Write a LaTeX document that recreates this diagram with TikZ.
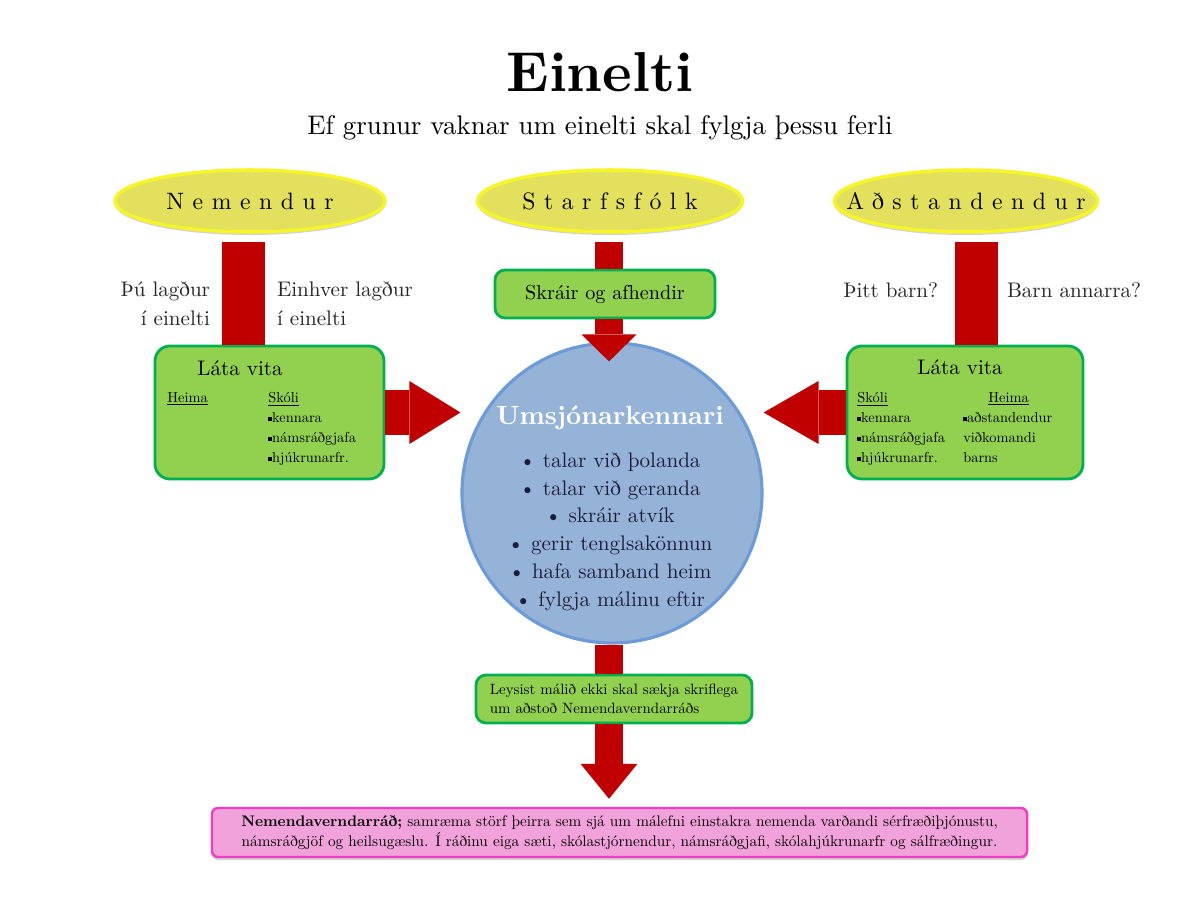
\documentclass[tikz,border=0pt]{standalone}
\usepackage{fontspec}
\setmainfont{lmroman10-regular}[Extension=.otf,BoldFont=lmroman10-bold,ItalicFont=lmroman10-italic,BoldItalicFont=lmroman10-bolditalic]
\newfontfamily\spaced{lmroman10-regular}[Extension=.otf,LetterSpace=36]
\usepackage{tikz}
\usetikzlibrary{shapes.geometric,arrows.meta,shadows,positioning}
\definecolor{barred}{HTML}{C00000}
\definecolor{boxgreen}{HTML}{92D050}
\definecolor{linegreen}{HTML}{00B050}
\definecolor{ovalyellow}{HTML}{E2E05C}
\definecolor{rimyellow}{HTML}{F5F52A}
\definecolor{ballblue}{HTML}{95B3D7}
\definecolor{rimblue}{HTML}{6C9BD8}
\definecolor{boxpink}{HTML}{F2A2DA}
\definecolor{rimpink}{HTML}{F23CC6}
\definecolor{inkblue}{HTML}{1C1C3C}
\newcommand{\sqb}{\rule[0.25ex]{2.2pt}{2.2pt}}
\newcommand{\fs}[2]{\fontsize{#1}{#2}\selectfont}
\newcommand{\ovaltext}[1]{\makebox[0pt]{#1}}

\begin{document}
\begin{tikzpicture}[
  oval/.style={ellipse,fill=ovalyellow,draw=rimyellow,line width=2pt,minimum height=1.24cm,
    drop shadow={shadow xshift=0pt,shadow yshift=-0.06cm,opacity=0.35},font=\spaced\fs{13.5}{16}},
  gbox/.style={rectangle,rounded corners=0.3cm,fill=boxgreen,draw=linegreen,line width=1.6pt},
  sbox/.style={gbox,rounded corners=0.2cm,minimum height=0.96cm},
  lbl/.style={inner sep=0pt,outer sep=0pt,text=black!85,font=\fs{12}{16.5}},
  small/.style={inner sep=0pt,align=left,font=\fs{8.2}{11.4}},
  redbar/.style={draw=barred,line width=0.86cm},
  redarr/.style={draw=barred,line width=0.9cm,-{Triangle[width=1.26cm,length=1.02cm,line width=0pt]}}
]
\useasboundingbox[fill=white] (0,0) rectangle (24,18);

\node (ttl) at (12,16.56) {\fs{32}{38}\bfseries Einelti};
\node (sub) at (12,15.44) {\fs{15.3}{18}Ef grunur vaknar um einelti skal fylgja þessu ferli};

\node[oval,minimum width=5.4cm] (nem) at (5.0,13.98) {\ovaltext{Nemendur}};
\node[oval,minimum width=5.3cm] (sta) at (12.2,13.98) {\ovaltext{Starfsfólk}};
\node[oval,minimum width=5.26cm] (ads) at (19.32,13.98) {\ovaltext{Aðstandendur}};

\node[sbox,minimum width=4.4cm,font=\fs{11.5}{14}] (skr) at (12.1,12.12) {Skráir og afhendir};

\node[gbox,minimum width=4.58cm,minimum height=2.66cm] (lvL) at (5.39,9.75) {};
\node[gbox,minimum width=4.72cm,minimum height=2.66cm] (lvR) at (19.3,9.75) {};

\node[circle,fill=ballblue,draw=rimblue,line width=1.8pt,minimum size=6cm] (umk) at (12.24,8.14) {};

\node[sbox,minimum width=5.52cm,align=left,font=\fs{8.5}{11}] (ley) at (12.28,4.02)
  {Leysist málið ekki skal sækja skriflega\\um aðstoð Nemendaverndarráðs};

\node[rectangle,rounded corners=0.12cm,fill=boxpink,draw=rimpink,line width=1.4pt,
  minimum width=16.3cm,minimum height=0.98cm,align=center,font=\fs{8.7}{11.4},
  drop shadow={shadow xshift=0pt,shadow yshift=-0.06cm,opacity=0.35}] (nvr) at (12.39,1.35)
  {\textbf{Nemendaverndarráð;} samræma störf þeirra sem sjá um málefni einstakra nemenda varðandi sérfræðiþjónustu,\\
   námsráðgjöf og heilsugæslu. Í ráðinu eiga sæti, skólastjórnendur, námsráðgjafi, skólahjúkrunarfr og sálfræðingur.};

\node[font=\fs{12}{14}] (lvLt) at (4.8,10.64) {Láta vita};
\node[small,anchor=north west] (lvLh) at (3.34,10.16) {\underline{Heima}};
\node[small,anchor=north west] (lvLs) at (5.36,10.16) {\underline{Skóli}\\\sqb kennara\\\sqb námsráðgjafa\\\sqb hjúkrunarfr.};

\node[font=\fs{12}{14}] (lvRt) at (19.2,10.66) {Láta vita};
\node[small,anchor=north west] (lvRs) at (17.14,10.16) {\underline{Skóli}\\\sqb kennara\\\sqb námsráðgjafa\\\sqb hjúkrunarfr.};
\node[small,anchor=north west] (lvRh) at (19.26,10.16) {\hspace*{0.5cm}\underline{Heima}\\\sqb aðstandendur\\viðkomandi\\barns};

\node[text=white,font=\fs{15}{17}\bfseries] (umkt) at (12.2,9.64) {Umsjónarkennari};
\node[text=inkblue,align=center,font=\fs{12}{15.8}] (umkl) at (12.2,7.37)
  {\textbullet\ talar við þolanda\\\textbullet\ talar við geranda\\\textbullet\ skráir atvík\\
   \textbullet\ gerir tenglsakönnun\\\textbullet\ hafa samband heim\\\textbullet\ fylgja málinu eftir};

\coordinate (tL) at (4.87,13.16);
\coordinate (tC) at (12.18,13.16);
\coordinate (tR) at (19.53,13.16);

\draw[redbar] (tL) -- (tL |- lvL.north)
  node[pos=0.6,left=0.67cm,align=right,lbl] {Þú lagður\\í einelti}
  node[pos=0.6,right=0.67cm,align=left,lbl] {Einhver lagður\\í einelti};
\draw[redbar] (tR) -- (tR |- lvR.north)
  node[pos=0.47,left=0.77cm,lbl] {Þitt barn?}
  node[pos=0.47,right=0.61cm,lbl] {Barn annarra?};
\draw[redbar,line width=0.56cm] (tC) -- (tC |- skr.north);
\draw[redarr,line width=0.56cm,-{Triangle[width=1.1cm,length=0.54cm,line width=0pt]},shorten >=-0.4cm] (tC |- skr.south) -- (tC |- umk.north);
\draw[redarr] (lvL.east) -- (lvL.east -| umk.west);
\draw[redarr,-{Triangle[width=1.26cm,length=1.1cm,line width=0pt]}] (lvR.west) -- (lvR.west -| umk.east);
\draw[redbar,line width=0.56cm] (tC |- umk.south) -- (tC |- ley.north);
\draw[redarr,line width=0.56cm,-{Triangle[width=1.14cm,length=0.7cm,line width=0pt]},shorten >=0.16cm] (tC |- ley.south) -- (tC |- nvr.north);
\end{tikzpicture}
\end{document}
